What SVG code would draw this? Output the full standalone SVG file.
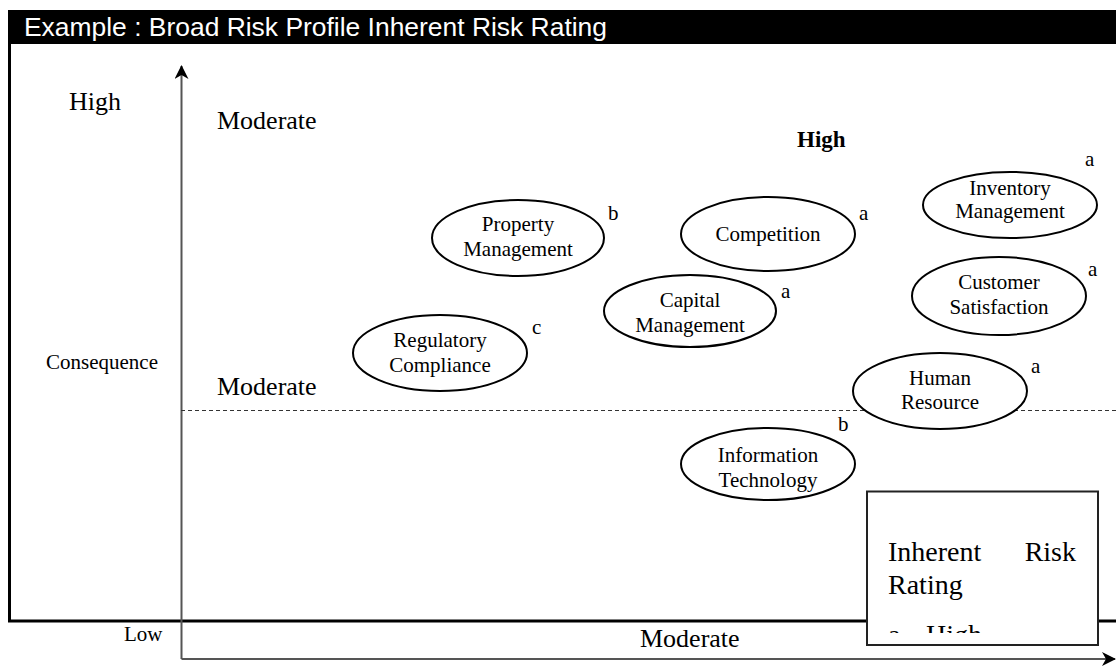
<svg xmlns="http://www.w3.org/2000/svg" width="1116" height="667" viewBox="0 0 1116 667">
  <style>
    .node ellipse { fill: #fff; stroke: #000; stroke-width: 2; }
    .lbl { font-family: "Liberation Serif", "Times New Roman", serif; font-size: 21px; fill: #000; }
    .ctr { text-anchor: middle; }
    .big { font-family: "Liberation Serif", "Times New Roman", serif; font-size: 26px; fill: #000; }
    .axis { stroke: #555; stroke-width: 2; fill: none; }
  </style>
  <defs>
    <marker id="arrow" viewBox="0 0 14 14" refX="13" refY="7" markerWidth="14" markerHeight="14" markerUnits="userSpaceOnUse" orient="auto">
      <path d="M0,0 L14,7 L0,14 L4,7 Z" fill="#000"/>
    </marker>
  </defs>

  <rect width="1116" height="667" fill="#fff"/>

  <!-- title bar -->
  <rect x="8" y="10" width="1108" height="34" fill="#000"/>
  <text x="24" y="36" font-family="'Liberation Sans', Arial, sans-serif" font-size="26" fill="#fff" textLength="583" lengthAdjust="spacingAndGlyphs">Example : Broad Risk Profile Inherent Risk Rating</text>

  <!-- frame -->
  <path d="M9.5,44 V621 H1116" fill="none" stroke="#000" stroke-width="3"/>

  <!-- axes and threshold -->
  <g id="connectors">
    <line class="axis" x1="181.5" y1="659" x2="181.5" y2="66" marker-end="url(#arrow)"/>
    <line class="axis" x1="181.5" y1="659" x2="1115" y2="659" marker-end="url(#arrow)"/>
    <line x1="181" y1="410.5" x2="1116" y2="410.5" stroke="#333" stroke-width="1.2" stroke-dasharray="4,3"/>
  </g>

  <!-- axis and zone labels -->
  <text class="big" x="69" y="110">High</text>
  <text class="big" x="217" y="129">Moderate</text>
  <text x="797" y="147" font-family="'Liberation Serif', 'Times New Roman', serif" font-size="23" font-weight="bold">High</text>
  <text class="lbl" x="46" y="369">Consequence</text>
  <text class="big" x="217" y="395">Moderate</text>
  <text class="lbl" x="124" y="641">Low</text>
  <text class="big" x="640" y="647">Moderate</text>

  <!-- risk nodes -->
  <g id="property-management" class="node">
    <ellipse cx="518" cy="238" rx="86" ry="38"/>
    <text class="lbl ctr" x="518" y="231">Property</text>
    <text class="lbl ctr" x="518" y="256">Management</text>
    <text class="lbl" x="608" y="220">b</text>
  </g>
  <g id="competition" class="node">
    <ellipse cx="768" cy="234" rx="87" ry="37"/>
    <text class="lbl ctr" x="768" y="241">Competition</text>
    <text class="lbl" x="859" y="220">a</text>
  </g>
  <g id="capital-management" class="node">
    <ellipse cx="690" cy="311" rx="86" ry="36"/>
    <text class="lbl ctr" x="690" y="307">Capital</text>
    <text class="lbl ctr" x="690" y="332">Management</text>
    <text class="lbl" x="781" y="298">a</text>
  </g>
  <g id="regulatory-compliance" class="node">
    <ellipse cx="440" cy="353" rx="87" ry="38"/>
    <text class="lbl ctr" x="440" y="347">Regulatory</text>
    <text class="lbl ctr" x="440" y="372">Compliance</text>
    <text class="lbl" x="532" y="334">c</text>
  </g>
  <g id="inventory-management" class="node">
    <ellipse cx="1010" cy="205" rx="87" ry="33"/>
    <text class="lbl ctr" x="1010" y="195">Inventory</text>
    <text class="lbl ctr" x="1010" y="218">Management</text>
    <text class="lbl" x="1085" y="166">a</text>
  </g>
  <g id="customer-satisfaction" class="node">
    <ellipse cx="999" cy="296" rx="87" ry="39"/>
    <text class="lbl ctr" x="999" y="289">Customer</text>
    <text class="lbl ctr" x="999" y="314">Satisfaction</text>
    <text class="lbl" x="1088" y="276">a</text>
  </g>
  <g id="human-resource" class="node">
    <ellipse cx="940" cy="391" rx="87" ry="38"/>
    <text class="lbl ctr" x="940" y="385">Human</text>
    <text class="lbl ctr" x="940" y="409">Resource</text>
    <text class="lbl" x="1031" y="373">a</text>
  </g>
  <g id="information-technology" class="node">
    <ellipse cx="768" cy="464" rx="87" ry="36"/>
    <text class="lbl ctr" x="768" y="462">Information</text>
    <text class="lbl ctr" x="768" y="487">Technology</text>
    <text class="lbl" x="838" y="431">b</text>
  </g>

  <!-- rating legend -->
  <defs>
    <clipPath id="legend-clip">
      <rect x="868" y="493" width="229" height="140"/>
    </clipPath>
  </defs>
  <g id="rating-legend">
    <rect x="867" y="491.5" width="231" height="153.5" fill="#fff" stroke="#222" stroke-width="2"/>
    <g clip-path="url(#legend-clip)" font-family="'Liberation Serif', 'Times New Roman', serif" font-size="28" fill="#000">
      <text x="888" y="561">Inherent</text>
      <text x="1076" y="561" text-anchor="end">Risk</text>
      <text x="888" y="594">Rating</text>
      <text x="888" y="644">a.</text>
      <text x="926" y="644">High</text>
    </g>
  </g>
</svg>
